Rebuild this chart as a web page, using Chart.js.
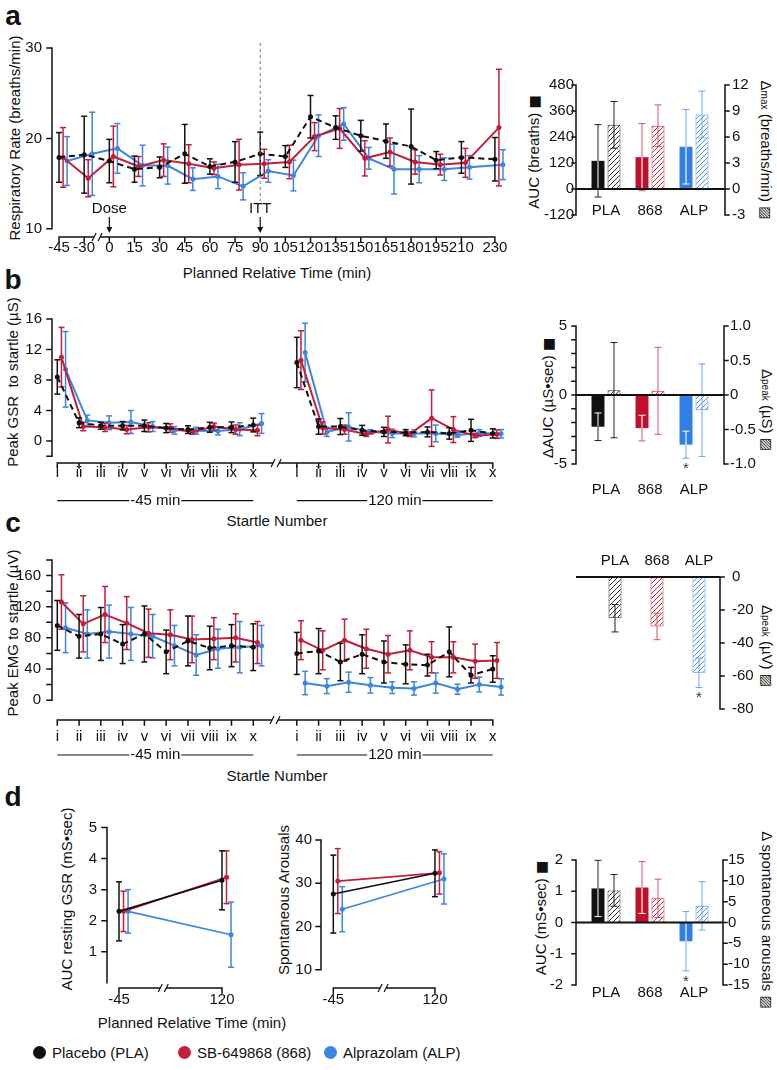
<!DOCTYPE html>
<html>
<head>
<meta charset="utf-8">
<script src="https://cdn.jsdelivr.net/npm/chart.js"></script>
<style>
  body { margin: 0; background: #fff; }
  #fig { position: relative; width: 777px; height: 1070px; overflow: hidden;
         font-family: "Liberation Sans", Arial, Helvetica, sans-serif; color: #111; }
  #fig canvas { position: absolute; }
  .t { position: absolute; white-space: nowrap; font-size: 15px; line-height: 1; }
  .c { transform: translate(-50%, -50%); }
  .l90 { transform: translate(-50%, -50%) rotate(-90deg); }
  .r90 { transform: translate(-50%, -50%) rotate(90deg); }
  .pl { position: absolute; font-weight: bold; font-size: 28px; line-height: 1; transform: translate(-50%, -50%); }
  .sub { font-size: 10px; }
  .sym { font-family: "DejaVu Sans", sans-serif; font-size: 14px; }
  .dot { display: inline-block; width: 13px; height: 13px; border-radius: 50%; vertical-align: -1px; margin-right: 6px; }
</style>
</head>
<body>
<div id="fig">
  <div class="pl" style="left:13px;top:16px">a</div>
  <div class="pl" style="left:13px;top:280px">b</div>
  <div class="pl" style="left:13px;top:523px">c</div>
  <div class="pl" style="left:13px;top:797px">d</div>

  <div class="t l90" style="left:14px;top:138px">Respiratory Rate (breaths/min)</div>
  <div class="t c" style="left:277px;top:272px">Planned Relative Time (min)</div>
  <div class="t l90" style="left:533px;top:152px">AUC (breaths) <span class="sym">■</span></div>
  <div class="t r90" style="left:766px;top:150px">Δ<span class="sub">max</span> (breaths/min) <span class="sym">▨</span></div>

  <div class="t l90" style="left:12px;top:382px">Peak GSR&nbsp; to startle (µS)</div>
  <div class="t c" style="left:277px;top:520px">Startle Number</div>
  <div class="t l90" style="left:547px;top:398px">ΔAUC (µS•sec) <span class="sym">■</span></div>
  <div class="t r90" style="left:767px;top:410px">Δ<span class="sub">peak</span> (µS) <span class="sym">▨</span></div>

  <div class="t l90" style="left:12px;top:633px">Peak EMG to startle (µV)</div>
  <div class="t c" style="left:277px;top:775px">Startle Number</div>
  <div class="t r90" style="left:767px;top:646px">Δ<span class="sub">peak</span> (µV) <span class="sym">▨</span></div>

  <div class="t l90" style="left:66px;top:899px">AUC resting GSR (mS•sec)</div>
  <div class="t l90" style="left:283px;top:900px">Spontaneous Arousals</div>
  <div class="t c" style="left:192px;top:1022px">Planned Relative Time (min)</div>
  <div class="t l90" style="left:540px;top:918px">AUC (mS•sec) <span class="sym">■</span></div>
  <div class="t r90" style="left:767px;top:920px">Δ spontaneous arousals <span class="sym">▨</span></div>

  <div class="t" style="left:33px;top:1045px"><span class="dot" style="background:#111"></span>Placebo (PLA)</div>
  <div class="t" style="left:178px;top:1045px"><span class="dot" style="background:#c41e3a"></span>SB-649868 (868)</div>
  <div class="t" style="left:324px;top:1045px"><span class="dot" style="background:#3d86e0"></span>Alprazolam (ALP)</div>
</div>

<script>
// ---- panel a : respiratory rate ----
var timesA = [-45, -30, 0, 15, 30, 45, 60, 75, 90, 105, 120, 135, 150, 165, 180, 195, 210, 230];
var plaA    = [17.9, 18.2, 17.5, 16.6, 16.8, 18.3, 16.9, 17.4, 18.3, 18.0, 22.4, 21.2, 20.3, 19.7, 19.1, 17.6, 17.9, 17.7];
var plaAErr = [2.75, 4.25, 2.4, 1.45, 1.15, 3.25, 0.85, 2.25, 2.4, 1.2, 2.35, 1.3, 1.7, 1.9, 4.15, 0.95, 1.75, 2.4];
var sbA     = [17.9, 15.6, 18.0, 16.9, 17.6, 17.2, 16.7, 17.1, 17.2, 17.4, 20.2, 21.1, 17.8, 18.5, 17.4, 17.1, 17.3, 21.2];
var sbAErr  = [3.3, 2.05, 3.35, 1.1, 1.8, 2.1, 0.7, 2.8, 1.6, 1.85, 1.55, 2.2, 1.95, 1.55, 1.35, 1.15, 1.6, 6.45];
var alpA    = [17.5, 18.3, 18.9, 17.0, 17.0, 15.5, 15.8, 14.7, 16.4, 15.9, 20.3, 21.6, 17.8, 16.6, 16.6, 16.6, 16.8, 17.1];
var alpAErr = [2.7, 4.6, 2.75, 2.25, 2.05, 1.25, 1.35, 1.5, 1.25, 1.7, 2.3, 1.8, 1.2, 2.75, 1.5, 1.25, 1.3, 1.65];

var groups = ['PLA', '868', 'ALP'];
var aucA = [130, 147, 195],   aucAErr = [167, 155, 172];
var maxA = [7.4, 7.3, 8.6],   maxAErr = [2.7, 2.4, 2.7];

// ---- panel b : GSR to startle ----
var startles = ['i', 'ii', 'iii', 'iv', 'v', 'vi', 'vii', 'viii', 'ix', 'x'];
var sessions = ['-45 min', '120 min'];
var plaB    = [8.4, 2.4, 2.0, 2.0, 2.0, 1.7, 1.5, 1.8, 1.8, 2.1,   10.3, 1.9, 1.9, 1.4, 1.2, 1.1, 1.2, 1.0, 1.4, 1.0];
var plaBErr = [2.25, 0.65, 0.45, 0.55, 0.75, 0.6, 0.5, 0.65, 0.7, 0.9,   3.3, 1.0, 1.05, 0.65, 0.6, 0.4, 0.65, 0.75, 1.45, 0.6];
var sbB     = [11.0, 1.9, 1.8, 1.5, 1.8, 1.7, 1.2, 1.9, 1.5, 1.4,   10.6, 1.7, 1.5, 0.9, 1.5, 0.9, 3.0, 1.5, 0.7, 0.9];
var sbBErr  = [3.9, 0.55, 0.55, 0.55, 0.6, 0.55, 0.3, 0.45, 0.6, 0.7,   3.85, 0.8, 0.6, 0.3, 1.75, 0.3, 3.7, 1.7, 0.25, 0.55];
var alpB    = [9.4, 2.7, 2.4, 2.5, 1.9, 1.4, 1.35, 1.3, 1.55, 2.3,   11.6, 1.2, 1.85, 1.2, 1.0, 1.0, 1.0, 0.8, 1.05, 0.95];
var alpBErr = [4.95, 0.7, 0.9, 1.5, 0.65, 0.5, 0.45, 0.5, 0.85, 1.3,   3.85, 0.6, 1.85, 0.3, 0.55, 0.45, 1.1, 0.3, 0.45, 0.55];
var aucB  = [-2.3, -2.4, -3.6],   aucBErr  = [1.0, 0.93, 0.98];
var peakB = [0.07, 0.06, -0.22],  peakBErr = [0.69, 0.63, 0.67];
var starB = [false, false, true];

// ---- panel c : EMG to startle ----
var plaC    = [96, 82, 85, 72, 85, 62, 76, 67, 70, 68,   60, 63, 49, 59, 49, 46, 45, 62, 32, 40];
var plaCErr = [32, 28, 34, 25, 36, 28, 32, 28, 27, 30,   27, 29, 24, 25, 27, 25, 14, 32, 10, 17];
var sbC     = [126, 98, 110, 99, 86, 84, 78, 79, 80, 74,   77, 64, 77, 66, 59, 64, 55, 55, 50, 51];
var sbCErr  = [35, 36, 36, 34, 31, 32, 30, 27, 31, 27,   25, 25, 27, 25, 24, 25, 20, 20, 22, 23];
var alpC    = [93, 85, 88, 85, 82, 70, 58, 66, 68, 70,   22, 18, 23, 19, 16, 15, 22, 14, 20, 17];
var alpCErr = [32, 31, 34, 34, 28, 26, 26, 25, 33, 26,   15, 9.6, 13, 10, 7.5, 8.5, 13, 6.5, 9.5, 10.5];
var peakC = [-25, -30, -58],  peakCErr = [8.3, 8, 9];
var starC = [false, false, true];

// ---- panel d : resting GSR and spontaneous arousals ----
var timesD = ['-45', '120'];
var plaD1 = [2.3, 3.3],   plaD1Err = [0.95, 0.95];
var sbD1  = [2.3, 3.4],   sbD1Err  = [0.65, 0.85];
var alpD1 = [2.3, 1.55],  alpD1Err = [0.7, 1.05];
var plaD2 = [27.5, 32.3], plaD2Err = [9, 5.4];
var sbD2  = [30.5, 32.4], sbD2Err  = [7.5, 4.9];
var alpD2 = [24, 31],     alpD2Err = [5.2, 5.8];
var aucD   = [1.09, 1.12, -0.6], aucDErr   = [0.9, 0.83, 0.95];
var spontD = [7.7, 5.8, 4.0],    spontDErr = [3.8, 4.6, 5.8];
var starD = [false, false, true];

// ------------------------------------------------------------------
var FONT = '"Liberation Sans", Arial, Helvetica, sans-serif';
Chart.defaults.font.family = FONT;
Chart.defaults.font.size = 15;
Chart.defaults.color = '#111';
Chart.defaults.animation = false;
Chart.defaults.responsive = false;
Chart.defaults.plugins.legend.display = false;
Chart.defaults.plugins.tooltip.enabled = false;

var BLK = '#111111', RED = '#c41e3a', BLU = '#3d86e0';
var barCol = ['#111111', '#c0102c', '#2f7fe6'];
var errCol = ['#222222', '#d4566a', '#6ea6ec'];
var hatchCol = ['#333333', '#c8283f', '#4a90e8'];

function hatch(color) {
  var c = document.createElement('canvas');
  c.width = 5; c.height = 5;
  var g = c.getContext('2d');
  g.fillStyle = '#fff'; g.fillRect(0, 0, 5, 5);
  g.strokeStyle = color; g.lineWidth = 1;
  g.beginPath();
  g.moveTo(0, 5); g.lineTo(5, 0);
  g.moveTo(-1, 1); g.lineTo(1, -1);
  g.moveTo(4, 6); g.lineTo(6, 4);
  g.stroke();
  return g.createPattern(c, 'repeat');
}
var hatches = hatchCol.map(hatch);

var figCfg = {};   // extra drawing per canvas id

function seg(ctx, x1, y1, x2, y2, col) {
  ctx.strokeStyle = col;
  ctx.beginPath(); ctx.moveTo(x1, y1); ctx.lineTo(x2, y2); ctx.stroke();
}

function drawAxis(chart, a) {
  var ctx = chart.ctx, ca = chart.chartArea, s = chart.scales[a.scale], L = a.len || 5;
  ctx.lineWidth = a.width || 1.5;
  ctx.strokeStyle = '#111';
  ctx.lineCap = 'square';
  ctx.beginPath();
  var vert = (a.side === 'left' || a.side === 'right');
  var pos;
  if (vert) {
    pos = (a.side === 'left' ? ca.left : ca.right) + (a.off || 0);
    var d = a.side === 'left' ? -L : L;
    ctx.moveTo(pos, s.getPixelForValue(a.from)); ctx.lineTo(pos, s.getPixelForValue(a.to));
    a.ticks.forEach(function (v) { var y = s.getPixelForValue(v); ctx.moveTo(pos, y); ctx.lineTo(pos + d, y); });
  } else {
    pos = (a.side === 'bottom' ? ca.bottom : ca.top) + (a.off || 0);
    var dd = a.side === 'bottom' ? L : -L;
    ctx.moveTo(s.getPixelForValue(a.from), pos); ctx.lineTo(s.getPixelForValue(a.to), pos);
    a.ticks.forEach(function (v) { var x = s.getPixelForValue(v); ctx.moveTo(x, pos); ctx.lineTo(x, pos + dd); });
  }
  ctx.stroke();
  ctx.lineCap = 'butt';
  (a.breaks || []).forEach(function (b) {
    var x = s.getPixelForValue(b);
    ctx.clearRect(x - 3, pos - 3, 6, 6);
    ctx.lineWidth = 1.2;
    ctx.beginPath();
    ctx.moveTo(x - 5, pos + 4); ctx.lineTo(x - 1, pos - 4);
    ctx.moveTo(x + 1, pos + 4); ctx.lineTo(x + 5, pos - 4);
    ctx.stroke();
  });
}

var figPlugin = {
  id: 'fig',
  afterDatasetDraw: function (chart, args) {
    var ds = chart.data.datasets[args.index];
    if (!ds.err) return;
    var ctx = chart.ctx, meta = args.meta, ys = chart.scales[meta.yAxisID];
    ctx.save();
    ctx.lineWidth = ds.errWidth || 1.5;
    ctx.setLineDash([]);
    meta.data.forEach(function (el, i) {
      var raw = ds.data[i];
      var v = (typeof raw === 'object') ? raw.y : raw;
      var e = ds.err[i], x = el.x, w = ds.cap || 3;
      var col = Array.isArray(ds.errColor) ? ds.errColor[i] : (ds.errColor || ds.borderColor);
      var yt = ys.getPixelForValue(v + e), yb = ys.getPixelForValue(v - e);
      var lo = 0, hi = 0;
      if (ds.errInside) { lo = Math.min(el.y, el.base); hi = Math.max(el.y, el.base); }
      function inBar(y) { return ds.errInside && y > lo + 0.5 && y < hi - 0.5; }
      seg(ctx, x, yt, x, yb, col);
      if (ds.errInside) {
        var a = Math.max(Math.min(yt, yb), lo), b = Math.min(Math.max(yt, yb), hi);
        if (b > a) seg(ctx, x, a, x, b, ds.errInside);
      }
      [yt, yb].forEach(function (y) { seg(ctx, x - w, y, x + w, y, inBar(y) ? ds.errInside : col); });
      if (ds.star && ds.star[i]) {
        ctx.fillStyle = '#333';
        ctx.font = '15px ' + FONT;
        ctx.textAlign = 'center'; ctx.textBaseline = 'top';
        ctx.fillText('*', x, Math.max(yt, yb) + 3);
      }
    });
    ctx.restore();
  },
  afterDraw: function (chart) {
    var o = figCfg[chart.canvas.id];
    if (!o) return;
    var ctx = chart.ctx, ca = chart.chartArea;
    ctx.save();
    (o.axes || []).forEach(function (a) { drawAxis(chart, a); });
    if (o.zero) {
      var s = chart.scales[o.zero.scale], y0 = s.getPixelForValue(0);
      ctx.lineWidth = 2; ctx.lineCap = 'butt';
      seg(ctx, ca.left + o.zero.l, y0, ca.right + o.zero.r, y0, '#111');
    }
    ctx.font = '15px ' + FONT;
    ctx.fillStyle = '#111';
    ctx.textAlign = 'center'; ctx.textBaseline = 'middle';
    (o.brackets || []).forEach(function (br) {
      var xs = chart.scales.x, x1 = xs.getPixelForValue(br.from), x2 = xs.getPixelForValue(br.to);
      var y = ca.bottom + br.dy, mid = (x1 + x2) / 2, w = ctx.measureText(br.text).width / 2 + 1;
      ctx.lineWidth = 1.2;
      seg(ctx, x1, y, mid - w, y, '#111');
      seg(ctx, mid + w, y, x2, y, '#111');
      ctx.fillText(br.text, mid, y);
    });
    if (o.vline) {
      var xv = chart.scales.x.getPixelForValue(o.vline.value);
      ctx.lineWidth = 1; ctx.setLineDash([3, 3]);
      seg(ctx, xv, ca.top + o.vline.top, xv, ca.bottom + o.vline.bottom, '#777');
      ctx.setLineDash([]);
    }
    (o.arrows || []).forEach(function (ar) {
      var x = chart.scales.x.getPixelForValue(ar.value);
      var yT = ca.bottom - 28;
      ctx.fillStyle = '#111';
      ctx.fillText(ar.text, x, yT);
      ctx.lineWidth = 1.2;
      seg(ctx, x, yT + 8, x, ca.bottom - 6, '#111');
      ctx.beginPath();
      ctx.moveTo(x - 3, ca.bottom - 10); ctx.lineTo(x + 3, ca.bottom - 10); ctx.lineTo(x, ca.bottom - 4);
      ctx.closePath(); ctx.fill();
    });
    ctx.restore();
  }
};

function mk(id, box) {
  var c = document.createElement('canvas');
  c.id = id; c.width = box.w; c.height = box.h;
  c.style.left = box.l + 'px'; c.style.top = box.t + 'px';
  document.getElementById('fig').appendChild(c);
  return c.getContext('2d');
}
function fixed(n) {
  return function (s) { if (s.isHorizontal()) s.height = n; else s.width = n; };
}
function setTicks(list) {
  return function (s) { s.ticks = list.map(function (v) { return { value: v }; }); };
}

// gapAfter: index after which the line is not drawn (separate sessions)
function series(vals, errs, pos, jit, color, dashed, width, gapAfter) {
  var ds = {
    data: vals.map(function (v, i) { return { x: pos[i] + jit, y: v }; }),
    err: errs,
    borderColor: color, backgroundColor: color,
    borderWidth: width || 2,
    borderDash: dashed ? [6, 4] : [],
    pointRadius: 2.5, pointBorderWidth: 0, pointBackgroundColor: color,
    errWidth: 1.5, cap: 3
  };
  if (gapAfter !== undefined) {
    ds.segment = { borderColor: function (c) { return c.p0DataIndex === gapAfter ? 'rgba(0,0,0,0)' : undefined; } };
  }
  return ds;
}

function lineChart(id, box, area, c) {
  var ctx = mk(id, box);
  figCfg[id] = c.fig;
  return new Chart(ctx, {
    type: 'line',
    data: { datasets: c.datasets },
    options: {
      layout: { padding: { top: area.t - box.t, right: box.l + box.w - area.r, left: 0, bottom: 0 } },
      scales: {
        x: {
          type: 'linear', min: c.xmin, max: c.xmax,
          afterFit: fixed(box.t + box.h - area.b),
          afterBuildTicks: setTicks(c.xticks),
          grid: { display: false, drawTicks: false }, border: { display: false },
          ticks: { autoSkip: false, maxRotation: 0, minRotation: 0, padding: c.xpad,
                   callback: function (v, i) { return c.xlabels[i]; } }
        },
        y: {
          type: 'linear', min: c.ymin, max: c.ymax,
          afterFit: fixed(area.l - box.l),
          afterBuildTicks: setTicks(c.yticks),
          grid: { display: false, drawTicks: false }, border: { display: false },
          ticks: { padding: c.ypad, autoSkip: false }
        }
      }
    },
    plugins: [figPlugin]
  });
}

function barChart(id, box, area, c) {
  var ctx = mk(id, box);
  figCfg[id] = c.fig;
  var scales = {
    x: {
      type: 'category', position: c.xpos,
      grid: { display: false, drawTicks: false }, border: { display: false },
      ticks: { padding: c.xpad, autoSkip: false, maxRotation: 0 }
    }
  };
  if (c.xpos === 'bottom' || c.xpos === 'top') {
    scales.x.afterFit = fixed(c.xpos === 'bottom' ? box.t + box.h - area.b : area.t - box.t);
  }
  if (c.y) {
    scales.y = { type: 'linear', position: 'left', min: c.y.min, max: c.y.max,
      afterFit: fixed(area.l - box.l), afterBuildTicks: setTicks(c.y.ticks),
      grid: { display: false, drawTicks: false }, border: { display: false },
      ticks: { padding: c.y.pad, autoSkip: false } };
  }
  scales.y2 = { type: 'linear', position: 'right', min: c.y2.min, max: c.y2.max,
    afterFit: fixed(box.l + box.w - area.r), afterBuildTicks: setTicks(c.y2.ticks),
    grid: { display: false, drawTicks: false }, border: { display: false },
    ticks: { padding: c.y2.pad, autoSkip: false } };
  var pad = { right: 0, left: c.y ? 0 : area.l - box.l,
              top: c.xpos === 'top' ? 0 : area.t - box.t,
              bottom: c.xpos === 'bottom' ? 0 : box.t + box.h - area.b };
  return new Chart(ctx, {
    type: 'bar',
    data: { labels: groups, datasets: c.datasets },
    options: { layout: { padding: pad }, scales: scales },
    plugins: [figPlugin]
  });
}

function solid(vals, errs, axis, star) {
  return { data: vals, err: errs, yAxisID: axis, backgroundColor: barCol, borderWidth: 0,
           errColor: errCol, errInside: '#ffffff', errWidth: 1, cap: 3.5, star: star,
           barPercentage: 0.81, categoryPercentage: 0.727 };
}
function hatched(vals, errs, axis, star, single) {
  return { data: vals, err: errs, yAxisID: axis, backgroundColor: hatches, borderColor: hatchCol,
           borderWidth: 1, errColor: errCol, errWidth: 1, cap: 3.5, star: star,
           barPercentage: single ? 0.31 : 0.81, categoryPercentage: single ? 1 : 0.727 };
}

// ---------------- panel a ----------------
function tA(t) { return t < 0 ? t + 15 : t; }   // compress the pre-dose stretch
var posA = timesA.map(tA);
lineChart('aLine', { l: 0, t: 0, w: 515, h: 290 }, { l: 52, t: 48, r: 510, b: 237 }, {
  xmin: -34.2, xmax: 239, ymin: 9.1, ymax: 30,
  xticks: posA, xlabels: timesA.map(String), yticks: [10, 20, 30], xpad: 2, ypad: 10,
  datasets: [
    series(plaA, plaAErr, posA, 0, BLK, true),
    series(sbA, sbAErr, posA, 2.4, RED),
    series(alpA, alpAErr, posA, 4.8, BLU)
  ],
  fig: {
    axes: [
      { scale: 'y', side: 'left', from: 10, to: 30, ticks: [10, 20, 30] },
      { scale: 'x', side: 'bottom', from: posA[0], to: posA[posA.length - 1], ticks: posA, breaks: [-7.3] }
    ],
    vline: { value: 90, top: -5, bottom: -36 },
    arrows: [{ value: 0, text: 'Dose' }, { value: 90, text: 'ITT' }]
  }
});

barChart('aBar', { l: 515, t: 60, w: 262, h: 180 }, { l: 584, t: 83, r: 716, b: 221 }, {
  xpos: { y: -120 }, xpad: -13,
  y: { min: -120, max: 480, ticks: [-120, 0, 120, 240, 360, 480], pad: 10 },
  y2: { min: -3, max: 12, ticks: [-3, 0, 3, 6, 9, 12], pad: 16 },
  datasets: [solid(aucA, aucAErr, 'y'), hatched(maxA, maxAErr, 'y2')],
  fig: {
    axes: [
      { scale: 'y', side: 'left', off: -8, from: -120, to: 480, ticks: [-120, 0, 120, 240, 360, 480], len: 4 },
      { scale: 'y2', side: 'right', off: 9, from: -3, to: 12, ticks: [-3, 0, 3, 6, 9, 12], len: 4 }
    ],
    zero: { scale: 'y', l: -8, r: 9 }
  }
});

// ---------------- panel b ----------------
var posS = [], labS = [];
sessions.forEach(function (s, g) { startles.forEach(function (r, k) { posS.push(g * 11 + k); labS.push(r); }); });
var jS = 0.19, gapS = startles.length - 1;

lineChart('bLine', { l: 0, t: 290, w: 515, h: 250 }, { l: 52, t: 319, r: 510, b: 463 }, {
  xmin: -0.243, xmax: 20.79, ymin: -2.88, ymax: 16,
  xticks: posS, xlabels: labS, yticks: [0, 4, 8, 12, 16], xpad: 0.7, ypad: 10,
  datasets: [
    series(plaB, plaBErr, posS, 0, BLK, true, 2, gapS),
    series(sbB, sbBErr, posS, jS, RED, false, 2, gapS),
    series(alpB, alpBErr, posS, 2 * jS, BLU, false, 2, gapS)
  ],
  fig: {
    axes: [
      { scale: 'y', side: 'left', from: -2, to: 16, ticks: [-2, 0, 4, 8, 12, 16] },
      { scale: 'x', side: 'bottom', from: 0, to: 20, ticks: posS, breaks: [10.05] }
    ],
    brackets: [{ from: 0, to: 9, text: sessions[0], dy: 37.7 }, { from: 11, to: 20, text: sessions[1], dy: 37.7 }]
  }
});

barChart('bBar', { l: 515, t: 300, w: 262, h: 210 }, { l: 584, t: 326, r: 716, b: 464 }, {
  xpos: 'bottom', xpad: 17,
  y: { min: -5, max: 5, ticks: [-5, 0, 5], pad: 17 },
  y2: { min: -1, max: 1, ticks: [-1, -0.5, 0, 0.5, 1], pad: 14 },
  datasets: [solid(aucB, aucBErr, 'y', starB), hatched(peakB, peakBErr, 'y2')],
  fig: {
    axes: [
      { scale: 'y', side: 'left', off: -8, from: -5, to: 5, ticks: [-5, -4, -3, -2, -1, 0, 1, 2, 3, 4, 5], len: 4 },
      { scale: 'y2', side: 'right', off: 8, from: -1, to: 1, ticks: [-1, -0.5, 0, 0.5, 1], len: 4 }
    ],
    zero: { scale: 'y', l: -8, r: 8 }
  }
});

// ---------------- panel c ----------------
lineChart('cLine', { l: 0, t: 540, w: 515, h: 250 }, { l: 52, t: 559, r: 510, b: 720 }, {
  xmin: -0.243, xmax: 20.79, ymin: -25.5, ymax: 180,
  xticks: posS, xlabels: labS, yticks: [0, 40, 80, 120, 160], xpad: 7.7, ypad: 11,
  datasets: [
    series(plaC, plaCErr, posS, 0, BLK, true, 2, gapS),
    series(sbC, sbCErr, posS, jS, RED, false, 2, gapS),
    series(alpC, alpCErr, posS, 2 * jS, BLU, false, 2, gapS)
  ],
  fig: {
    axes: [
      { scale: 'y', side: 'left', from: 0, to: 180, ticks: [0, 20, 40, 60, 80, 100, 120, 140, 160, 180] },
      { scale: 'x', side: 'bottom', from: 0, to: 20, ticks: posS, breaks: [10.0] }
    ],
    brackets: [{ from: 0, to: 9, text: sessions[0], dy: 35 }, { from: 11, to: 20, text: sessions[1], dy: 35 }]
  }
});

barChart('cBar', { l: 515, t: 540, w: 262, h: 190 }, { l: 594, t: 577, r: 720, b: 715 }, {
  xpos: 'top', xpad: 7,
  y2: { min: -80, max: 0, ticks: [-80, -60, -40, -20, 0], pad: 12 },
  datasets: [hatched(peakC, peakCErr, 'y2', starC, true)],
  fig: {
    axes: [{ scale: 'y2', side: 'right', off: 0, from: -80, to: 0, ticks: [-80, -60, -40, -20, 0], len: 4 }],
    zero: { scale: 'y2', l: -18, r: 0 }
  }
});

// ---------------- panel d ----------------
var posD = [0, 1], jD = 0.044;
lineChart('dLine1', { l: 0, t: 800, w: 250, h: 215 }, { l: 107, t: 810, r: 240, b: 988 }, {
  xmin: -0.1165, xmax: 1.175, ymin: -0.168, ymax: 5.275,
  xticks: posD, xlabels: timesD, yticks: [1, 2, 3, 4, 5], xpad: 3, ypad: 10,
  datasets: [
    series(plaD1, plaD1Err, posD, 0, BLK, false, 1.6),
    series(sbD1, sbD1Err, posD, jD, RED, false, 1.6),
    series(alpD1, alpD1Err, posD, 2 * jD, BLU, false, 1.6)
  ],
  fig: {
    axes: [
      { scale: 'y', side: 'left', from: 0, to: 5, ticks: [1, 2, 3, 4, 5] },
      { scale: 'x', side: 'bottom', from: 0, to: 1, ticks: posD, breaks: [0.43] }
    ]
  }
});

lineChart('dLine2', { l: 250, t: 800, w: 250, h: 215 }, { l: 321, t: 830, r: 455, b: 988 }, {
  xmin: -0.121, xmax: 1.197, ymin: 5.8, ymax: 42.3,
  xticks: posD, xlabels: timesD, yticks: [10, 20, 30, 40], xpad: 3, ypad: 9,
  datasets: [
    series(plaD2, plaD2Err, posD, 0, BLK, false, 1.6),
    series(sbD2, sbD2Err, posD, jD, RED, false, 1.6),
    series(alpD2, alpD2Err, posD, 2 * jD, BLU, false, 1.6)
  ],
  fig: {
    axes: [
      { scale: 'y', side: 'left', from: 10, to: 40, ticks: [10, 20, 30, 40] },
      { scale: 'x', side: 'bottom', from: 0, to: 1, ticks: posD, breaks: [0.49] }
    ]
  }
});

barChart('dBar', { l: 515, t: 830, w: 262, h: 185 }, { l: 584, t: 851, r: 716, b: 991 }, {
  xpos: { y: -2 }, xpad: -1,
  y: { min: -2, max: 2, ticks: [-2, -1, 0, 1, 2], pad: 21 },
  y2: { min: -15, max: 15, ticks: [-15, -10, -5, 0, 5, 10, 15], pad: 12 },
  datasets: [solid(aucD, aucDErr, 'y', starD), hatched(spontD, spontDErr, 'y2')],
  fig: {
    axes: [
      { scale: 'y', side: 'left', off: -8, from: -2, to: 2, ticks: [-2, -1, 0, 1, 2], len: 4 },
      { scale: 'y2', side: 'right', off: 7, from: -15, to: 15, ticks: [-15, -10, -5, 0, 5, 10, 15], len: 4 }
    ],
    zero: { scale: 'y', l: -8, r: 7 }
  }
});
</script>
</body>
</html>
